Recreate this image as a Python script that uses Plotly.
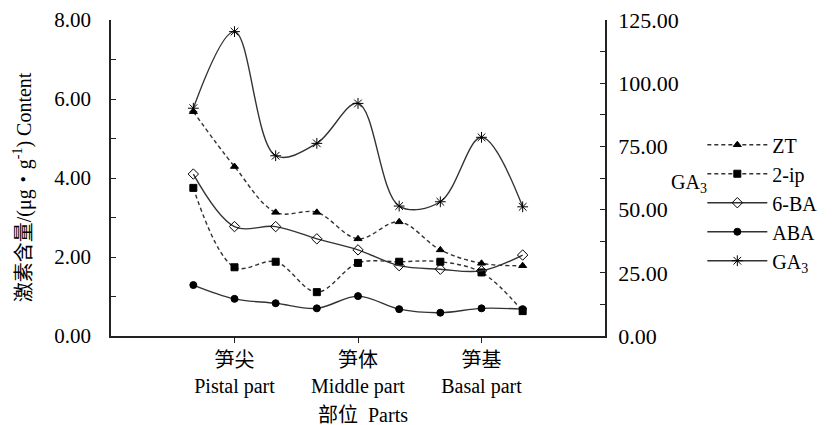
import plotly.graph_objects as go

positions = [1, 2, 3, 4, 5, 6, 7, 8, 9]
tick_positions = [2, 5, 8]
tick_labels = ["笋尖<br>Pistal part", "笋体<br>Middle part", "笋基<br>Basal part"]

zt = [5.68, 4.29, 3.13, 3.13, 2.46, 2.89, 2.18, 1.84, 1.78]
ip2 = [3.75, 1.74, 1.88, 1.11, 1.85, 1.88, 1.88, 1.61, 0.63]
ba6 = [4.10, 2.77, 2.77, 2.46, 2.18, 1.78, 1.69, 1.65, 2.05]
aba = [1.29, 0.94, 0.83, 0.70, 1.01, 0.68, 0.59, 0.70, 0.68]
ga3 = [90.1, 120.4, 71.3, 76.2, 92.0, 51.4, 53.1, 78.6, 51.1]

left_ticks = [0, 1, 2, 3, 4, 5, 6, 7, 8]
left_text = ["0.00", "", "2.00", "", "4.00", "", "6.00", "", "8.00"]
right_ticks = [0, 12.5, 25, 37.5, 50, 62.5, 75, 87.5, 100, 112.5, 125]
right_text = ["0.00", "", "25.00", "", "50.00", "", "75.00", "", "100.00", "", "125.00"]

FONT = "Liberation Serif, Times New Roman, Noto Sans CJK SC, serif"
LINE = "#333333"

fig = go.Figure()

def add(name, y, symbol, size, dash, yaxis="y"):
    fig.add_trace(go.Scatter(
        x=positions, y=y, name=name, yaxis=yaxis, mode="lines+markers",
        line=dict(color=LINE, width=1.4, dash=dash, shape="spline", smoothing=1.0),
        marker=dict(symbol=symbol, size=size, color="black",
                    line=dict(color="black", width=1)),
        legendgroup=name,
    ))

add("ZT", zt, "triangle-up", 7, "4px,3px")
add("2-ip", ip2, "square", 7, "4px,3px")
add("6-BA", ba6, "diamond-open", 8, "solid")
add("ABA", aba, "circle", 7, "solid")
add("GA<sub>3</sub>", ga3, "asterisk-open", 9, "solid", yaxis="y2")

fig.update_layout(
    width=825, height=417,
    margin=dict(l=103, r=228, t=12, b=89, autoexpand=False),
    paper_bgcolor="white", plot_bgcolor="white",
    font=dict(family=FONT, size=20, color="black"),
    showlegend=True,
    legend=dict(x=1.197, y=0.667, xanchor="left", yanchor="top",
                font=dict(size=20, family=FONT), tracegroupgap=0,
                itemwidth=60, bgcolor="rgba(0,0,0,0)"),
    xaxis=dict(range=[-1, 11], tickvals=tick_positions, ticktext=tick_labels,
               showline=True, linecolor="#222", linewidth=1.5, ticks="outside",
               ticklen=5, tickcolor="#222", showgrid=False, zeroline=False,
               automargin=False, tickfont=dict(size=20, family=FONT)),
    yaxis=dict(range=[0, 8], tickvals=left_ticks, ticktext=left_text,
               showline=True, linecolor="#222", linewidth=1.5, ticks="inside",
               ticklen=5, tickcolor="#222", showgrid=False, zeroline=False,
               automargin=False, ticklabelstandoff=14, ticklabeloverflow="allow",
               tickfont=dict(size=21, family=FONT)),
    yaxis2=dict(range=[0, 125], tickvals=right_ticks, ticktext=right_text,
                overlaying="y", side="right", anchor="x",
                showline=True, linecolor="#222", linewidth=1.5, ticks="inside",
                ticklen=5, tickcolor="#222", showgrid=False, zeroline=False,
                automargin=False, ticklabelstandoff=7, ticklabeloverflow="allow",
                tickfont=dict(size=22, family=FONT)),
)

fig.add_annotation(text="激素含量/(μg・g<sup>-1</sup>) Content", textangle=-90,
                   xref="paper", yref="paper", x=-0.208, y=0.47,
                   showarrow=False, font=dict(size=20, family=FONT))
fig.add_annotation(text="GA<sub>3</sub>", xref="paper", yref="paper",
                   x=1.21, y=0.484, showarrow=False, font=dict(size=20, family=FONT))
fig.add_annotation(text="部位  Parts", xref="paper", yref="paper",
                   x=0.51, y=-0.25, yanchor="middle", showarrow=False,
                   font=dict(size=20, family=FONT))

fig.write_html("out.html")
